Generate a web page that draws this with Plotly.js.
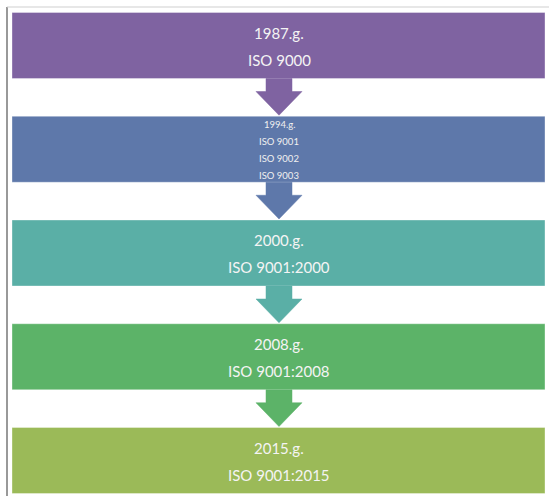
<!DOCTYPE html>
<html>
<head>
<meta charset="utf-8">
<script src="https://cdn.plot.ly/plotly-3.0.1.min.js"></script>
<style>html,body{margin:0;padding:0;background:#fff;}#chart{width:550px;height:496px;}</style>
</head>
<body>
<div id="chart"></div>
<script>
// Stages of the ISO 9000 family, top to bottom
var years = ["1987.g.", "1994.g.", "2000.g.", "2008.g.", "2015.g."];
var standards = [
  ["ISO 9000"],
  ["ISO 9001", "ISO 9002", "ISO 9003"],
  ["ISO 9001:2000"],
  ["ISO 9001:2008"],
  ["ISO 9001:2015"]
];
var colors = ["#7F63A1", "#5E78AA", "#5AAFA6", "#5CB368", "#9BBA58"];

// layout geometry (pixel space)
var W = 550, H = 496;
var boxLeft = 12, boxRight = 545, boxTop0 = 12.5, boxH = 66, pitch = 103.75;
var cx = 279, shaftHalf = 13, headHalf = 23, shaftLen = 13;

var shapes = [];
var annotations = [];
var traces = [];

// frame lines
shapes.push({type: "line", xref: "x", yref: "y", x0: 7, x1: 7, y0: 7, y1: H, line: {color: "#555", width: 1.2}});
shapes.push({type: "line", xref: "x", yref: "y", x0: 7, x1: 549, y0: 7, y1: 7, line: {color: "#cfcfcf", width: 1}});

for (var i = 0; i < years.length; i++) {
  var bTop = boxTop0 + i * pitch;
  var bBot = bTop + boxH;
  shapes.push({type: "rect", xref: "x", yref: "y", x0: boxLeft, x1: boxRight, y0: bTop, y1: bBot,
    fillcolor: colors[i], line: {color: "rgba(255,255,255,0.35)", width: 1}, layer: "below"});

  var lines = [years[i]].concat(standards[i]);
  if (lines.length === 2) {
    var ys = [bTop + 20, bTop + 47];
    for (var k = 0; k < 2; k++) {
      annotations.push({x: cx, y: ys[k], xref: "x", yref: "y", text: lines[k], showarrow: false,
        xanchor: "center", yanchor: "middle", font: {family: "Lato, 'Open Sans', sans-serif", size: 15, color: "#F4F4F4"}});
    }
  } else {
    for (var k = 0; k < lines.length; k++) {
      annotations.push({x: cx, y: bTop + 8.5 + k * 17, xref: "x", yref: "y", text: lines[k], showarrow: false,
        xanchor: "center", yanchor: "middle", font: {family: "Lato, 'Open Sans', sans-serif", size: 9.5, color: "#F0F0F0"}});
    }
  }

  if (i < years.length - 1) {
    var nextTop = boxTop0 + (i + 1) * pitch;
    var hy = bBot + shaftLen;
    traces.push({
      type: "scatter", mode: "lines", fill: "toself", fillcolor: colors[i],
      line: {color: colors[i], width: 0.5}, hoverinfo: "skip", showlegend: false,
      x: [cx - shaftHalf, cx + shaftHalf, cx + shaftHalf, cx + headHalf, cx, cx - headHalf, cx - shaftHalf, cx - shaftHalf],
      y: [bBot, bBot, hy, hy, nextTop - 1, hy, hy, bBot]
    });
  }
}

var layout = {
  width: W, height: H,
  margin: {l: 0, r: 0, t: 0, b: 0},
  paper_bgcolor: "#ffffff", plot_bgcolor: "#ffffff",
  xaxis: {range: [0, W], visible: false, fixedrange: true},
  yaxis: {range: [H, 0], visible: false, fixedrange: true},
  shapes: shapes,
  annotations: annotations,
  showlegend: false
};

Plotly.newPlot("chart", traces, layout, {displayModeBar: false, staticPlot: true});
</script>
</body>
</html>
